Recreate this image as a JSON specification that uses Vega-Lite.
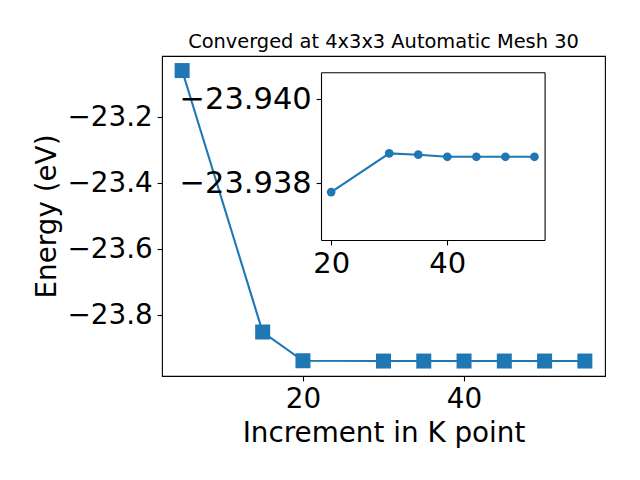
{
  "$schema": "https://vega.github.io/schema/vega-lite/v6.json",
  "width": 443,
  "height": 320,
  "autosize": {"type": "none"},
  "padding": {"left": 162, "top": 56, "right": 35, "bottom": 104},
  "background": "white",
  "config": {
    "font": "DejaVu Sans",
    "view": {"stroke": "black", "strokeWidth": 1.1},
    "axis": {
      "grid": false,
      "domain": false,
      "tickColor": "black",
      "tickWidth": 1.1,
      "tickSize": 4.9,
      "labelPadding": 4.9,
      "labelFont": "DejaVu Sans",
      "labelFontSize": 27.8,
      "labelColor": "black",
      "titleFont": "DejaVu Sans",
      "titleFontSize": 27.8,
      "titleFontWeight": "normal",
      "titleColor": "black",
      "labelFlush": false,
      "labelOverlap": false
    }
  },
  "title": {
    "text": "Converged at 4x3x3 Automatic Mesh 30",
    "font": "DejaVu Sans",
    "fontSize": 19.4,
    "fontWeight": "normal",
    "color": "black",
    "frame": "group",
    "anchor": "middle",
    "baseline": "alphabetic",
    "offset": 8,
    "dy": 19
  },
  "data": {
    "values": [
      {"k": 5, "energy": -23.0586},
      {"k": 15, "energy": -23.8507},
      {"k": 20, "energy": -23.93779},
      {"k": 30, "energy": -23.93871},
      {"k": 35, "energy": -23.93868},
      {"k": 40, "energy": -23.93863},
      {"k": 45, "energy": -23.93863},
      {"k": 50, "energy": -23.93863},
      {"k": 55, "energy": -23.93863}
    ]
  },
  "layer": [
    {
      "encoding": {
        "x": {
          "field": "k", "type": "quantitative",
          "scale": {"domain": [2.5, 57.5], "nice": false, "zero": false},
          "axis": {"values": [20, 40], "format": "d", "title": "Increment in K point", "titlePadding": 6}
        },
        "y": {
          "field": "energy", "type": "quantitative",
          "scale": {"domain": [-23.984, -23.0145], "nice": false, "zero": false},
          "axis": {"values": [-23.2, -23.4, -23.6, -23.8], "format": ".1f", "title": "Energy (eV)", "titlePadding": 6}
        }
      },
      "layer": [
        {"mark": {"type": "line", "color": "#1f77b4", "strokeWidth": 2.1}},
        {"mark": {"type": "point", "shape": "square", "filled": true, "opacity": 1, "color": "#1f77b4", "size": 225}}
      ]
    },
    {
      "transform": [{"filter": "datum.k >= 20"}],
      "encoding": {
        "x": {
          "field": "k", "type": "quantitative",
          "scale": {"domain": [18.25, 56.75], "range": [159, 382.6], "nice": false, "zero": false},
          "axis": {"orient": "bottom", "offset": -136, "values": [20, 40], "format": "d", "title": null, "labelFontSize": 29, "domain": true, "domainColor": "black", "domainWidth": 1.1, "zindex": 1}
        },
        "y": {
          "field": "energy", "type": "quantitative",
          "scale": {"domain": [-23.94064, -23.93665], "range": [16.3, 184], "nice": false, "zero": false},
          "axis": {"orient": "left", "offset": -159, "values": [-23.940, -23.938], "format": ".3f", "title": null, "labelFontSize": 30.5, "domain": true, "domainColor": "black", "domainWidth": 1.1, "zindex": 1}
        }
      },
      "layer": [
        {"mark": {"type": "line", "color": "#1f77b4", "strokeWidth": 2.1}},
        {"mark": {"type": "point", "shape": "circle", "filled": true, "opacity": 1, "color": "#1f77b4", "size": 76}}
      ]
    },
    {
      "transform": [{"filter": "datum.k >= 20"}],
      "mark": {"type": "point", "opacity": 0},
      "encoding": {
        "x": {
          "field": "k", "type": "quantitative",
          "scale": {"domain": [18.25, 56.75], "range": [159, 382.6], "nice": false, "zero": false},
          "axis": {"orient": "top", "offset": -16.3, "labels": false, "ticks": false, "title": null, "domain": true, "domainColor": "black", "domainWidth": 1.1, "zindex": 1}
        },
        "y": {
          "field": "energy", "type": "quantitative",
          "scale": {"domain": [-23.94064, -23.93665], "range": [16.3, 184], "nice": false, "zero": false},
          "axis": {"orient": "right", "offset": -60.4, "labels": false, "ticks": false, "title": null, "domain": true, "domainColor": "black", "domainWidth": 1.1, "zindex": 1}
        }
      }
    }
  ],
  "resolve": {
    "scale": {"x": "independent", "y": "independent"},
    "axis": {"x": "independent", "y": "independent"}
  }
}
